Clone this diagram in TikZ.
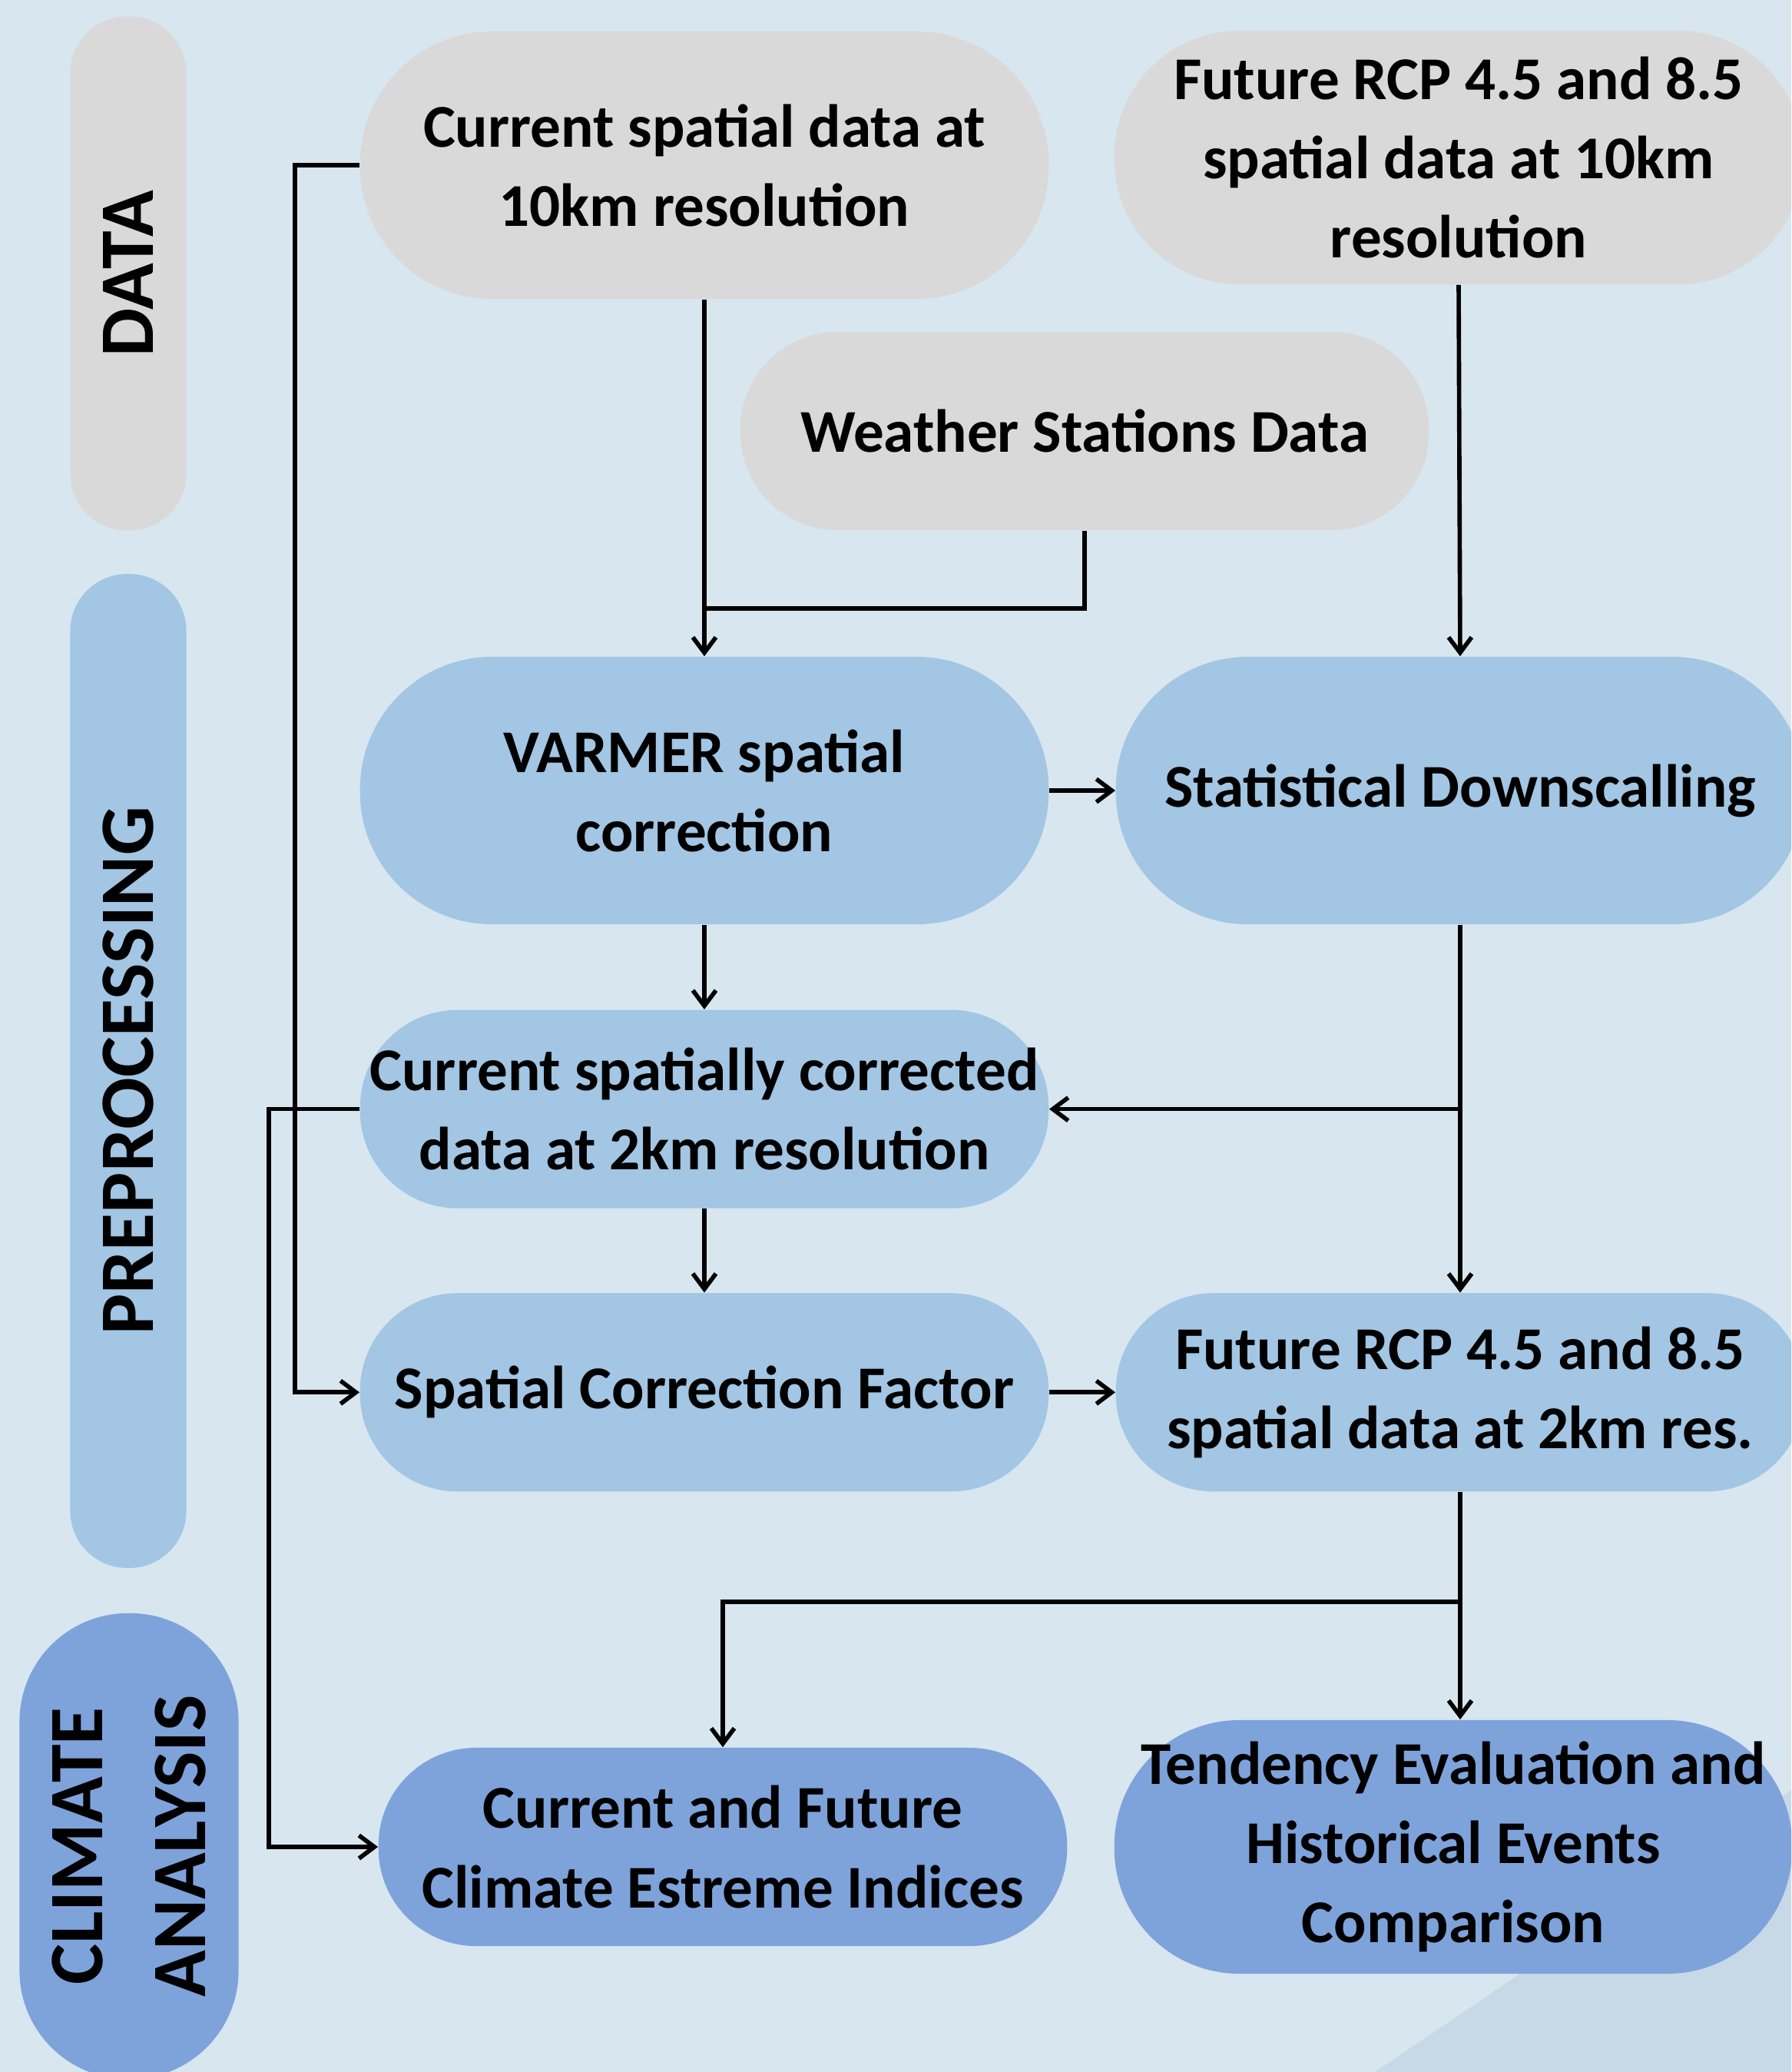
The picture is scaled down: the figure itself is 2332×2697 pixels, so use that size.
\documentclass[tikz,border=0pt]{standalone}
\usepackage{fontspec}
\setmainfont{Carlito}
\usepackage{tikz}
\usetikzlibrary{arrows.meta, positioning}
\definecolor{bgblue}{RGB}{216,230,239}
\definecolor{bgshade}{RGB}{199,217,231}
\definecolor{datagrey}{RGB}{217,217,217}
\definecolor{prepblue}{RGB}{162,198,227}
\definecolor{climblue}{RGB}{126,163,219}

\begin{document}
\begin{tikzpicture}[
  x=0.01cm, y=0.01cm,
  box/.style={rectangle, draw=none, align=center, inner xsep=1pt, minimum width=8.96cm, font=\fontsize{22.5}{29.3}\selectfont\bfseries},
  tall/.style={minimum height=3.48cm, rounded corners=1.72cm},
  mid/.style={minimum height=3.3cm, rounded corners=1.63cm},
  flat/.style={minimum height=2.58cm, rounded corners=1.27cm},
  phase/.style={rectangle, rotate=90, align=center, font=\fontsize{28.5}{38}\selectfont\bfseries},
  link/.style={draw, line width=1.6pt},
  flow/.style={link, -{Straight Barb[length=0.2cm, width=0.3cm]}}
]
  \useasboundingbox (0,0) rectangle (2332,-2697);
  \clip (0,0) rectangle (2332,-2697);
  \fill[bgblue] (0,0) rectangle (2332,-2697);
  \fill[bgshade] (1790,-2697) -- (2332,-2330) -- (2332,-2697) -- cycle;

  % phase labels
  \node[phase, fill=datagrey, minimum width=6.69cm, minimum height=1.51cm, rounded corners=0.74cm] (data) at (167,-356) {DATA};
  \node[phase, fill=prepblue, minimum width=12.93cm, minimum height=1.51cm, rounded corners=0.74cm] (prep) at (167,-1394) {PREPROCESSING};
  \node[phase, fill=climblue, minimum width=6.06cm, minimum height=2.85cm, rounded corners=1.41cm] (clim) at (168,-2403) {CLIMATE\\ANALYSIS};

  % data
  \node[box, tall, fill=datagrey] (cur10) at (917,-215) {Current spatial data at\\10km resolution};
  \node[box, mid, fill=datagrey] (fut10) at (1899,-205) {Future RCP 4.5 and 8.5\\spatial data at 10km\\resolution};
  \node[box, flat, fill=datagrey] (wsd) at (1412,-561) {Weather Stations Data};

  % preprocessing
  \node[box, tall, fill=prepblue] (varmer) at (917,-1029) {VARMER spatial\\correction};
  \node[box, tall, fill=prepblue, right=0.86cm of varmer] (stat) {Statistical Downscalling};
  \node[box, flat, fill=prepblue, below=1.1cm of varmer] (cur2) {Current spatially corrected\\data at 2km resolution};
  \node[box, flat, fill=prepblue, below=1.09cm of cur2] (scf) {Spatial Correction Factor};
  \node[box, flat, fill=prepblue, right=0.86cm of scf] (fut2) {Future RCP 4.5 and 8.5\\spatial data at 2km res.};

  % climate analysis
  \node[box, flat, fill=climblue] (cfi) at (941,-2404) {Current and Future\\Climate Estreme Indices};
  \node[box, mid, fill=climblue, minimum width=8.82cm] (ten) at (1892,-2404) {Tendency Evaluation and\\Historical Events\\Comparison};

  \coordinate (wsdmerge) at (917,-792);
  \coordinate (futsplit) at (1899,-2085);

  \draw[flow] (cur10.south) -- (varmer.north);
  \draw[link] (wsd.south) |- (wsdmerge);
  \draw[flow] (fut10.south) -- (stat.north);
  \draw[flow] (varmer.east) -- (stat.west);
  \draw[flow] (varmer.south) -- (cur2.north);
  \draw[flow] (stat.south) -- (fut2.north);
  \draw[flow] (stat.south |- cur2.east) -- (cur2.east);
  \draw[flow] (cur2.south) -- (scf.north);
  \draw[flow] (scf.east) -- (fut2.west);
  \draw[flow] (cur10.west) -- ++(-84,0) |- (scf.west);
  \draw[flow] (cur2.west) -- ++(-118,0) |- (cfi.west);
  \draw[flow] (fut2.south) -- (fut2.south |- ten.north);
  \draw[flow] (futsplit) -| (cfi.north);
\end{tikzpicture}
\end{document}
